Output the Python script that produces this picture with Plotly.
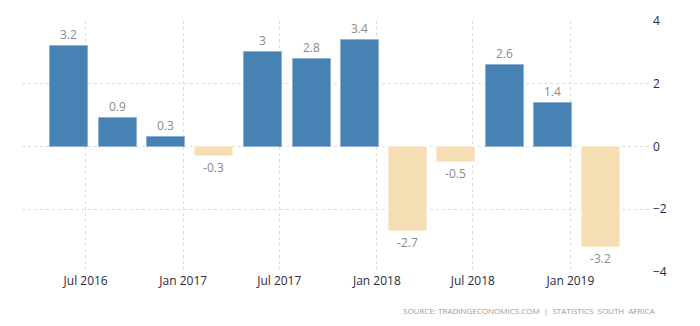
import plotly.graph_objects as go

# Data
quarters = ["2016-05-31", "2016-08-31", "2016-11-30", "2017-02-28",
            "2017-05-31", "2017-08-31", "2017-11-30", "2018-02-28",
            "2018-05-31", "2018-08-31", "2018-11-30", "2019-02-28"]
values = [3.2, 0.9, 0.3, -0.3, 3.0, 2.8, 3.4, -2.7, -0.5, 2.6, 1.4, -3.2]
labels = ["3.2", "0.9", "0.3", "-0.3", "3", "2.8", "3.4", "-2.7", "-0.5", "2.6", "1.4", "-3.2"]
xtick_vals = ["2016-07-01", "2017-01-01", "2017-07-01", "2018-01-01", "2018-07-01", "2019-01-01"]
xtick_text = ["Jul 2016", "Jan 2017", "Jul 2017", "Jan 2018", "Jul 2018", "Jan 2019"]
ytick_vals = [-4, -2, 0, 2, 4]

POS = "#4682B4"
NEG = "#F5DEB3"
colors = [POS if v >= 0 else NEG for v in values]
lines = ["#8fb0d0" if v >= 0 else "#fbeccf" for v in values]

fig = go.Figure()
fig.add_trace(go.Bar(
    x=quarters, y=values,
    width=[71.6 * 86400000] * len(values),
    marker=dict(color=colors, line=dict(color=lines, width=1)),
    text=labels, textposition="outside",
    textfont=dict(color="#8a8a8a", size=12, family="Open Sans"),
    cliponaxis=False,
    hoverinfo="x+y",
))

fig.update_layout(
    width=700, height=326,
    margin=dict(l=22, r=50, t=18, b=54),
    paper_bgcolor="white", plot_bgcolor="white",
    showlegend=False,
    bargap=0,
    font=dict(family="Open Sans", size=12, color="#333"),
    xaxis=dict(
        type="date",
        range=["2016-03-03", "2019-05-31"],
        tickvals=xtick_vals, ticktext=xtick_text,
        showgrid=True, gridcolor="#dcdcdc", griddash="dot", gridwidth=1,
        zeroline=False, showline=False, ticks="",
        tickfont=dict(size=12, color="#2a2a3a"),
    ),
    yaxis=dict(
        side="right", range=[-4, 4], tickvals=ytick_vals,
        showgrid=True, gridcolor="#dcdcdc", griddash="dot", gridwidth=1,
        zeroline=False, showline=False, ticks="",
        tickfont=dict(size=12, color="#2a2a3a"),
        ticklabelstandoff=2,
    ),
    annotations=[dict(
        text="SOURCE: TRADINGECONOMICS.COM  |  STATISTICS  SOUTH  AFRICA",
        xref="paper", yref="paper", x=1.0127, y=-0.1535,
        xanchor="right", yanchor="middle", showarrow=False,
        font=dict(size=8, color="#9a9a9a", family="Open Sans"),
    )],
)

fig.write_html("out.html")
